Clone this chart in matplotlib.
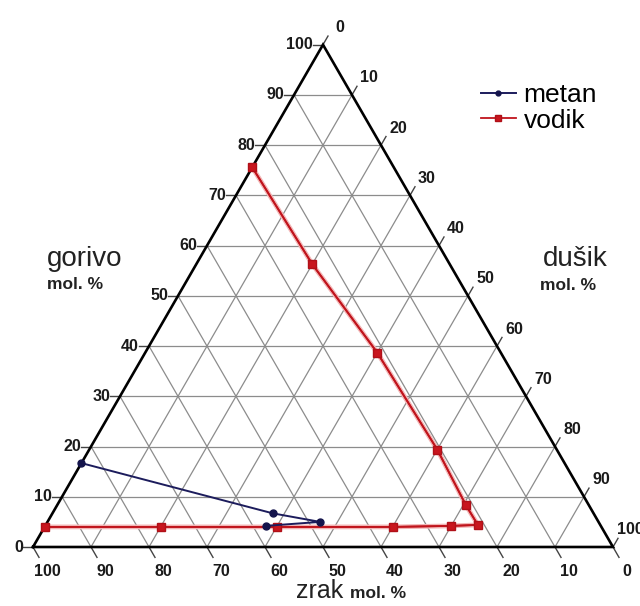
import numpy as np
import matplotlib
matplotlib.use("Agg")
from matplotlib import pyplot as plt
import matplotlib.patheffects as pe

# gorivo (fuel) and dusik (nitrogen) in mol. %, zrak (air) = 100 - gorivo - dusik
metan_gorivo = [16.7, 6.7, 5.0, 4.2]
metan_dusik = [0, 38, 47, 38]

vodik_gorivo = [75.6, 56.3, 38.7, 19.4, 8.3, 4.4, 4.2, 4.0, 4.0, 4.0, 4.0]
vodik_dusik = [0, 20, 40, 60, 70.5, 74.5, 70, 60, 40, 20, 0]

ticks = list(range(0, 101, 10))

H = np.sqrt(3) / 2
PX = 1 / 580.0  # one pixel in triangle units


def tern(f, n):
    f = np.asarray(f, dtype=float) / 100
    n = np.asarray(n, dtype=float) / 100
    return n + 0.5 * f, H * f


plt.rcParams['font.family'] = ['Liberation Sans', 'DejaVu Sans']

fig = plt.figure(figsize=(6.4, 6.06), dpi=100)
ax = fig.add_axes([0, 0, 1, 1])
ax.set_xlim(-33 * PX, 607 * PX)
ax.set_ylim(-59 * PX, 547 * PX)
ax.axis('off')

grid_c = '#8c8c8c'
tick_c = '#444444'

# grid lines
for k in ticks[1:-1]:
    x, y = tern([k, k], [0, 100 - k])          # constant gorivo
    ax.plot(x, y, color=grid_c, lw=0.9, zorder=1)
    x, y = tern([0, 100 - k], [k, k])          # constant dusik
    ax.plot(x, y, color=grid_c, lw=0.9, zorder=1)
    x, y = tern([0, 100 - k], [100 - k, 0])    # constant zrak
    ax.plot(x, y, color=grid_c, lw=0.9, zorder=1)

# triangle
x, y = tern([0, 0, 100, 0], [0, 100, 0, 0])
ax.plot(x, y, color='black', lw=1.9, zorder=3, solid_joinstyle='miter')

tl = 10 * PX
lab = dict(fontsize=11.5, fontweight='bold', color='#1a1a1a')
for k in ticks:
    # left axis: gorivo
    x0, y0 = tern(k, 0)
    ax.plot([x0, x0 - tl], [y0, y0], color=tick_c, lw=1.0, zorder=2)
    ax.text(x0 - 10 * PX, y0, str(k), ha='right', va='center', **lab)
    # bottom axis: zrak
    x0, y0 = tern(0, 100 - k)
    ax.plot([x0, x0 + 0.5 * tl * 1.2], [y0, y0 - H * tl * 1.2], color=tick_c, lw=1.0, zorder=2)
    ax.text(x0 + 14 * PX, y0 - 25 * PX, str(k), ha='center', va='center', **lab)
    # right axis: dusik
    x0, y0 = tern(100 - k, k)
    ax.plot([x0, x0 + 0.5 * tl], [y0, y0 + H * tl], color=tick_c, lw=1.0, zorder=2)
    ax.text(x0 + 17 * PX, y0 + 17 * PX, str(k), ha='center', va='center', **lab)

# data
halo = [pe.Stroke(linewidth=3.4, foreground='#f2b4b4'), pe.Normal()]
x, y = tern(vodik_gorivo, vodik_dusik)
ax.plot(x, y, color='#c0141c', lw=1.3, path_effects=halo, zorder=4)
ax.plot(x, y, color='#c0141c', lw=1.3, marker='s', ms=6, mec='#b01018', mfc='#c8161e',
        zorder=4, label='vodik')
x, y = tern(metan_gorivo, metan_dusik)
ax.plot(x, y, color='#1c1c5c', lw=1.4, marker='o', ms=5, mec='#14144c', mfc='#14144c',
        zorder=5, label='metan')

# axis titles
big = dict(fontsize=20, color='#222222', va='baseline')
small = dict(fontsize=12.5, fontweight='bold', color='#222222', va='baseline')
fig.text(47 / 640, 1 - 266 / 606, 'gorivo', ha='left', **big)
fig.text(47 / 640, 1 - 289 / 606, 'mol. %', ha='left', **small)
fig.text(543 / 640, 1 - 266 / 606, 'dušik', ha='left', **big)
fig.text(540 / 640, 1 - 290 / 606, 'mol. %', ha='left', **small)
fig.text(343 / 640, 1 - 598 / 606, 'zrak', ha='right', fontsize=18, color='#222222',
         va='baseline')
fig.text(350 / 640, 1 - 598 / 606, 'mol. %', ha='left', **small)

h, l = ax.get_legend_handles_labels()
leg = ax.legend(h[::-1], l[::-1], loc='upper left', bbox_to_anchor=(468 / 640, 1 - 70 / 606),
                frameon=False, fontsize=19, handlelength=1.3, handletextpad=0.3,
                labelspacing=0.05, borderpad=0, markerscale=0.7)

fig.savefig('out.png', dpi=100)
